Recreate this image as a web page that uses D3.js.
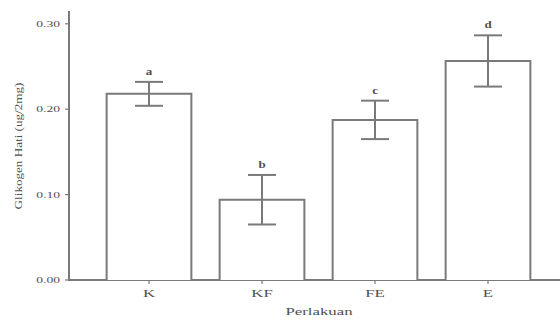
<!DOCTYPE html>
<html><head><meta charset="utf-8">
<script src="https://cdn.jsdelivr.net/npm/d3@7"></script>
<style>body{margin:0;background:#fff}svg{display:block}text{font-family:"Liberation Serif","DejaVu Serif",serif;fill:#505050}</style>
</head><body>
<svg id="c" width="560" height="320"></svg>
<script>
const categories = ["K", "KF", "FE", "E"];
const means = [0.218, 0.094, 0.1875, 0.2565];
const errors = [0.014, 0.029, 0.0225, 0.030];
const letters = ["a", "b", "c", "d"];
const yTicks = [0.00, 0.10, 0.20, 0.30];

const svg = d3.select("#c");
const stroke = "#7a7a7a";
const x0 = 69, xEnd = 560, yBase = 280;
const y = d3.scaleLinear().domain([0, 0.315]).range([yBase, 11]);
const x = d3.scaleBand().domain(categories).range([92.5, 544.5]).paddingInner(0.25).paddingOuter(0.125);

function wideText(parent, tx, ty, str, size, sx, anchor, weight, rot) {
  return parent.append("text")
    .attr("transform", `translate(${tx},${ty})${rot ? " rotate(" + rot + ")" : ""} scale(${sx},1)`)
    .attr("text-anchor", anchor).attr("font-size", size)
    .attr("font-weight", weight || "normal").text(str);
}

// axes lines
svg.append("line").attr("x1", x0).attr("x2", x0).attr("y1", y(0.315)).attr("y2", yBase + 1)
  .attr("stroke", stroke).attr("stroke-width", 2);
svg.append("line").attr("x1", x0 - 1).attr("x2", xEnd).attr("y1", yBase).attr("y2", yBase)
  .attr("stroke", stroke).attr("stroke-width", 2);

// y ticks
const yAxis = svg.append("g");
yTicks.forEach(t => {
  yAxis.append("line").attr("x1", x0 - 4).attr("x2", x0).attr("y1", y(t)).attr("y2", y(t))
    .attr("stroke", stroke).attr("stroke-width", 1.2);
  wideText(yAxis, x0 - 9, y(t) + 3, d3.format(".2f")(t), 8.5, 1.6, "end");
});

// bars
const g = svg.append("g");
categories.forEach((c, i) => {
  const bx = x(c), bw = x.bandwidth(), cx = bx + bw / 2;
  g.append("path")
    .attr("d", `M${bx},${yBase}V${y(means[i])}H${bx + bw}V${yBase}`)
    .attr("fill", "#fff").attr("stroke", stroke).attr("stroke-width", 2);
  const hi = y(means[i] + errors[i]), lo = y(means[i] - errors[i]);
  g.append("line").attr("x1", cx).attr("x2", cx).attr("y1", hi).attr("y2", lo)
    .attr("stroke", stroke).attr("stroke-width", 2);
  [hi, lo].forEach(yy => g.append("line").attr("x1", cx - 14).attr("x2", cx + 14)
    .attr("y1", yy).attr("y2", yy).attr("stroke", stroke).attr("stroke-width", 2));
  wideText(g, cx, hi - 7, letters[i], 10, 1.3, "middle", "bold").attr("fill", "#333");
  // x tick
  g.append("line").attr("x1", cx).attr("x2", cx).attr("y1", yBase).attr("y2", yBase + 4)
    .attr("stroke", stroke).attr("stroke-width", 1.2);
  wideText(g, cx, yBase + 17, c, 10.5, 1.6, "middle");
});

wideText(svg, 319, 315, "Perlakuan", 10.5, 1.6, "middle");
wideText(svg, 22, 146, "Glikogen Hati (ug/2mg)", 10.5, 1.25, "middle", "normal", -90);
</script>
</body></html>
